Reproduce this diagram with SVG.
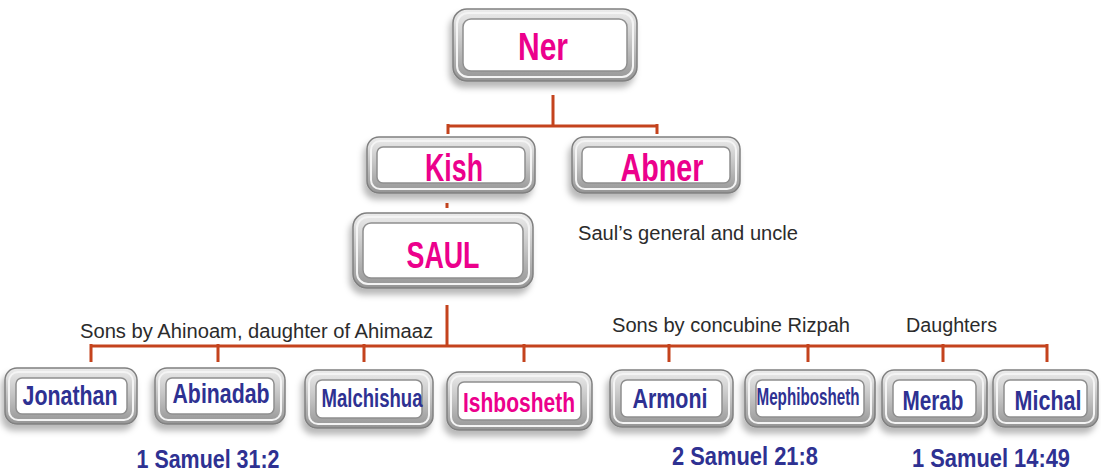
<svg xmlns="http://www.w3.org/2000/svg" width="1101" height="473" viewBox="0 0 1101 473">
<defs>
<linearGradient id="frame" x1="0" y1="0" x2="0" y2="1">
<stop offset="0" stop-color="#ececec"/>
<stop offset="0.5" stop-color="#c2c2c2"/>
<stop offset="1" stop-color="#959595"/>
</linearGradient>
<filter id="sh" x="-20%" y="-20%" width="140%" height="160%">
<feDropShadow dx="-3" dy="6" stdDeviation="3" flood-color="#000" flood-opacity="0.28"/>
</filter>
</defs>
<style>
.o{fill:url(#frame);stroke:#808080;stroke-width:1.5;filter:url(#sh)}
.m{fill:none;stroke:#f4f4f4;stroke-width:2}
.i{fill:#fff;stroke:#8f8f8f;stroke-width:1.5}
.c{fill:none;stroke:#c4431d;stroke-width:3}
.pk{font-family:"Liberation Sans",Arial,sans-serif;font-weight:bold;fill:#ec008c;text-anchor:middle}
.nv{font-family:"Liberation Sans",Arial,sans-serif;font-weight:bold;fill:#2e3192;text-anchor:middle}
.lb{font-family:"Liberation Sans",Arial,sans-serif;font-size:20px;fill:#2b2b2b}
</style>
<rect width="1101" height="473" fill="#fff"/>
<g id="connectors">
<path class="c" d="M553 95 V126 M448 126 H657 M448 124 V134 M657 124 V134"/>
<path class="c" d="M447 203 V208"/>
<path class="c" d="M447 305 V346 M91 346 H1048 M91 344 V362 M218 344 V362 M364 344 V362 M524 344 V362 M669 344 V362 M808 344 V362 M943 344 V362 M1047 344 V362"/>
</g>
<g id="ner"><rect class="o" x="453" y="9" width="184" height="72" rx="14"/><rect class="m" x="457" y="13" width="176" height="64" rx="11"/><rect class="i" x="463" y="19" width="164" height="52" rx="8"/><text class="pk" x="543" y="60" font-size="38" textLength="50" lengthAdjust="spacingAndGlyphs">Ner</text></g>
<g id="kish"><rect class="o" x="367" y="137" width="168" height="56" rx="12"/><rect class="m" x="371" y="141" width="160" height="48" rx="9"/><rect class="i" x="377" y="147" width="148" height="36" rx="6"/><text class="pk" x="454" y="181" font-size="38" textLength="58" lengthAdjust="spacingAndGlyphs">Kish</text></g>
<g id="abner"><rect class="o" x="572" y="137" width="168" height="56" rx="12"/><rect class="m" x="576" y="141" width="160" height="48" rx="9"/><rect class="i" x="582" y="147" width="148" height="36" rx="6"/><text class="pk" x="662" y="181" font-size="38" textLength="83" lengthAdjust="spacingAndGlyphs">Abner</text></g>
<g id="saul"><rect class="o" x="353" y="213" width="180" height="75" rx="14"/><rect class="m" x="357" y="217" width="172" height="67" rx="11"/><rect class="i" x="363" y="223" width="160" height="55" rx="8"/><text class="pk" x="443" y="268" font-size="36" textLength="73" lengthAdjust="spacingAndGlyphs">SAUL</text></g>
<g id="jonathan"><rect class="o" x="5" y="368" width="132" height="56" rx="12"/><rect class="m" x="9" y="372" width="124" height="48" rx="9"/><rect class="i" x="16" y="378" width="111" height="36" rx="6"/><text class="nv" x="70" y="405" font-size="27" textLength="95" lengthAdjust="spacingAndGlyphs">Jonathan</text></g>
<g id="abinadab"><rect class="o" x="155" y="368" width="130" height="56" rx="12"/><rect class="m" x="159" y="372" width="122" height="48" rx="9"/><rect class="i" x="166" y="378" width="108" height="36" rx="6"/><text class="nv" x="221" y="403" font-size="27" textLength="97" lengthAdjust="spacingAndGlyphs">Abinadab</text></g>
<g id="malchishua"><rect class="o" x="305" y="370" width="128" height="58" rx="12"/><rect class="m" x="309" y="374" width="120" height="50" rx="9"/><rect class="i" x="316" y="380" width="106" height="38" rx="6"/><text class="nv" x="372" y="407" font-size="25" textLength="101" lengthAdjust="spacingAndGlyphs">Malchishua</text></g>
<g id="ishbosheth"><rect class="o" x="447" y="372" width="145" height="58" rx="12"/><rect class="m" x="451" y="376" width="137" height="50" rx="9"/><rect class="i" x="458" y="382" width="123" height="38" rx="6"/><text class="pk" x="519" y="412" font-size="28" textLength="112" lengthAdjust="spacingAndGlyphs">Ishbosheth</text></g>
<g id="armoni"><rect class="o" x="610" y="370" width="123" height="57" rx="12"/><rect class="m" x="614" y="374" width="115" height="49" rx="9"/><rect class="i" x="621" y="380" width="101" height="37" rx="6"/><text class="nv" x="670" y="408" font-size="27" textLength="75" lengthAdjust="spacingAndGlyphs">Armoni</text></g>
<g id="mephibosheth"><rect class="o" x="745" y="370" width="130" height="57" rx="12"/><rect class="m" x="749" y="374" width="122" height="49" rx="9"/><rect class="i" x="756" y="380" width="108" height="37" rx="6"/><text class="nv" x="808" y="405" font-size="24" textLength="103" lengthAdjust="spacingAndGlyphs">Mephibosheth</text></g>
<g id="merab"><rect class="o" x="882" y="370" width="105" height="57" rx="12"/><rect class="m" x="886" y="374" width="97" height="49" rx="9"/><rect class="i" x="893" y="380" width="83" height="37" rx="6"/><text class="nv" x="933" y="410" font-size="27" textLength="61" lengthAdjust="spacingAndGlyphs">Merab</text></g>
<g id="michal"><rect class="o" x="993" y="370" width="105" height="57" rx="12"/><rect class="m" x="997" y="374" width="97" height="49" rx="9"/><rect class="i" x="1004" y="380" width="83" height="37" rx="6"/><text class="nv" x="1048" y="410" font-size="27" textLength="67" lengthAdjust="spacingAndGlyphs">Michal</text></g>
<g id="labels">
<text class="lb" x="578" y="240" textLength="220" lengthAdjust="spacingAndGlyphs">Saul’s general and uncle</text>
<text class="lb" x="80" y="338" textLength="353" lengthAdjust="spacingAndGlyphs">Sons by Ahinoam, daughter of Ahimaaz</text>
<text class="lb" x="612" y="332" textLength="238" lengthAdjust="spacingAndGlyphs">Sons by concubine Rizpah</text>
<text class="lb" x="906" y="332" textLength="91" lengthAdjust="spacingAndGlyphs">Daughters</text>
<text class="nv" x="208" y="468" font-size="26" textLength="143" lengthAdjust="spacingAndGlyphs">1 Samuel 31:2</text>
<text class="nv" x="745" y="465" font-size="26" textLength="146" lengthAdjust="spacingAndGlyphs">2 Samuel 21:8</text>
<text class="nv" x="991" y="467" font-size="26" textLength="158" lengthAdjust="spacingAndGlyphs">1 Samuel 14:49</text>
</g>
</svg>
